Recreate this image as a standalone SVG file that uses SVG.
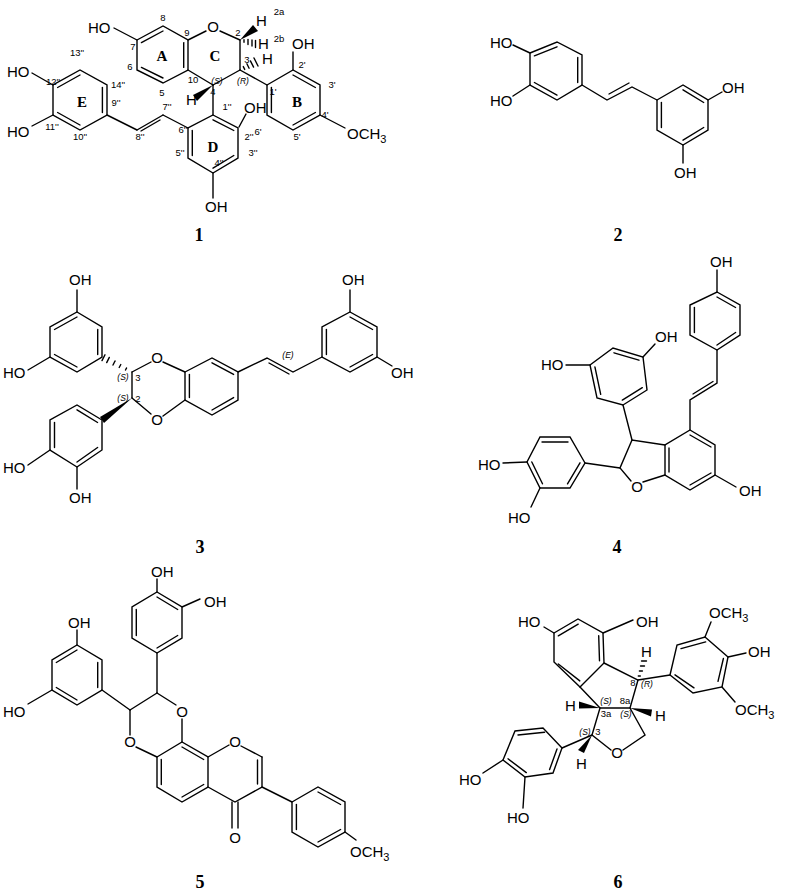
<svg xmlns="http://www.w3.org/2000/svg" width="785" height="893" viewBox="0 0 785 893">
<style>
line,polyline,polygon.r{stroke:#000;stroke-width:1.4;fill:none;stroke-linecap:round}
polygon.w{fill:#000;stroke:none}
text{font-family:"Liberation Sans",Arial,sans-serif;fill:#000}
.a{font-size:15px}
.s{font-size:9.5px;text-anchor:middle}
.i{font-size:8.5px;font-style:italic;text-anchor:middle}
.m{text-anchor:middle}
.L{font-family:"Liberation Serif","Times New Roman",serif;font-weight:bold;font-size:15px;text-anchor:middle}
.n{font-family:"Liberation Serif","Times New Roman",serif;font-weight:bold;font-size:18px;text-anchor:middle}
</style>
<rect width="785" height="893" fill="#fff"/>

<g id="c1">
<polygon class="r" points="137,40 163,26 188,40 188,70 163,83 137,70"/>
<line x1="141.4" y1="42.6" x2="163" y2="31"/><line x1="183.7" y1="42.6" x2="183.7" y2="67.4"/><line x1="163" y1="78" x2="141.4" y2="67.4"/>
<line x1="188" y1="40" x2="206" y2="31"/><line x1="220" y1="31" x2="240" y2="40"/><line x1="240" y1="40" x2="240" y2="70"/><line x1="240" y1="70" x2="213" y2="85"/><line x1="213" y1="85" x2="188" y2="70"/>
<line x1="213" y1="85" x2="213" y2="115"/><line x1="240" y1="70" x2="267" y2="85"/>
<polygon class="r" points="267,85 293,70 320,85 320,115 293,130 267,115"/>
<line x1="293" y1="75" x2="315.4" y2="87.5"/><line x1="315.4" y1="112.5" x2="293" y2="125"/><line x1="271.4" y1="87.5" x2="271.4" y2="112.5"/>
<polygon class="r" points="213,115 238,128 238,158 213,173 188,158 188,128"/>
<line x1="213" y1="119.8" x2="233.8" y2="130.5"/><line x1="233.8" y1="155.5" x2="213" y2="168.2"/><line x1="192.3" y1="155.5" x2="192.3" y2="130.5"/>
<line x1="188" y1="128" x2="163" y2="115"/><line x1="163" y1="115" x2="137" y2="130"/><line x1="160" y1="120" x2="141" y2="131"/><line x1="137" y1="130" x2="107" y2="115"/>
<polygon class="r" points="107,115 107,85 80,70 53,85 53,115 80,130"/>
<line x1="102.4" y1="112.5" x2="102.4" y2="87.5"/><line x1="80" y1="75" x2="57.6" y2="87.5"/><line x1="57.6" y1="112.5" x2="80" y2="125"/>
<line x1="32" y1="73" x2="53" y2="85"/><line x1="32" y1="126" x2="53" y2="115"/><line x1="114" y1="28" x2="137" y2="40"/>
<line x1="293" y1="52" x2="293" y2="70"/><line x1="239" y1="127" x2="246" y2="114"/><line x1="213" y1="173" x2="213" y2="198"/><line x1="320" y1="115" x2="345" y2="128"/>
<polygon class="w" points="240,40 253,25 258,31"/>
<line x1="244" y1="39.7" x2="244" y2="42.3"/><line x1="248" y1="39.4" x2="248" y2="44.6"/><line x1="252" y1="40" x2="252" y2="46"/><line x1="255.5" y1="40.5" x2="255.5" y2="47.5"/>
<line x1="243.3" y1="66.6" x2="244.7" y2="69.4"/><line x1="246.9" y1="63.8" x2="249.1" y2="68.2"/><line x1="250.4" y1="60.9" x2="253.6" y2="67.1"/><line x1="254" y1="58" x2="258" y2="66"/>
<polygon class="w" points="213,85 193,95 197,101"/>
<text class="a" x="7" y="77">HO</text><text class="a" x="7" y="137">HO</text><text class="a" x="88" y="33">HO</text>
<text class="a m" x="213" y="32">O</text><text class="a" x="292" y="49">OH</text><text class="a" x="244" y="113">OH</text><text class="a" x="205" y="212">OH</text>
<text class="a" x="347" y="139">OCH<tspan font-size="11" dy="4">3</tspan></text>
<text class="a" x="256" y="26">H</text><text class="s" x="279" y="15">2a</text>
<text class="a" x="258" y="49">H</text><text class="s" x="279" y="42">2b</text>
<text class="a" x="262" y="64">H</text><text class="a" x="186" y="105">H</text>
<text class="s" x="163" y="21">8</text><text class="s" x="187" y="36">9</text><text class="s" x="133" y="50">7</text><text class="s" x="130" y="70">6</text><text class="s" x="162" y="96">5</text><text class="s" x="193" y="83">10</text>
<text class="s" x="238" y="36">2</text><text class="s" x="247" y="63">3</text><text class="i" x="217" y="84">(S)</text><text class="s" x="213" y="95">4</text><text class="i" x="243" y="84">(R)</text>
<text class="s" x="302" y="68">2'</text><text class="s" x="332" y="88">3'</text><text class="s" x="273" y="95">1'</text><text class="s" x="325" y="118">4'</text><text class="s" x="258" y="135">6'</text><text class="s" x="297" y="140">5'</text>
<text class="s" x="227" y="110">1''</text><text class="s" x="249" y="140">2''</text><text class="s" x="253" y="156">3''</text><text class="s" x="219" y="166">4''</text><text class="s" x="180" y="156">5''</text><text class="s" x="183" y="133">6''</text>
<text class="s" x="167" y="110">7''</text><text class="s" x="140" y="140">8''</text><text class="s" x="116" y="106">9''</text><text class="s" x="80" y="140">10''</text><text class="s" x="52" y="130">11''</text><text class="s" x="53" y="85">12''</text><text class="s" x="77" y="56">13''</text><text class="s" x="118" y="88">14''</text>
<text class="L" x="162" y="61">A</text><text class="L" x="215" y="61">C</text><text class="L" x="297" y="107">B</text><text class="L" x="213" y="152">D</text><text class="L" x="82" y="107">E</text>
<text class="n" x="199" y="241">1</text>
</g>

<g id="c2">
<polygon class="r" points="530,53 557,42 582,55 582,85 557,100 530,85"/>
<line x1="534.4" y1="55.9" x2="557" y2="46.8"/><line x1="577.7" y1="57.5" x2="577.7" y2="82.5"/><line x1="534.4" y1="82.5" x2="557" y2="95.1"/>
<line x1="513" y1="45" x2="530" y2="53"/><line x1="513" y1="96" x2="530" y2="85"/>
<polyline points="582,85 607,100 632,87 657,100"/><line x1="609" y1="94" x2="629" y2="83"/>
<polygon class="r" points="657,100 683,85 708,100 708,130 683,145 657,130"/>
<line x1="661.4" y1="102.5" x2="661.4" y2="127.5"/><line x1="683" y1="89.8" x2="703.7" y2="102.5"/><line x1="703.7" y1="127.5" x2="683" y2="140.2"/>
<line x1="708" y1="100" x2="722" y2="92"/><line x1="683" y1="145" x2="683" y2="163"/>
<text class="a" x="490" y="48">HO</text><text class="a" x="490" y="106">HO</text><text class="a" x="722" y="93">OH</text><text class="a" x="674" y="178">OH</text>
<text class="n" x="618" y="241">2</text>
</g>

<g id="c3">
<polygon class="r" points="77,312 102,327 102,357 77,372 50,357 50,327"/>
<line x1="97.7" y1="329.5" x2="97.7" y2="354.5"/><line x1="54.5" y1="329.5" x2="77" y2="317"/><line x1="54.5" y1="354.5" x2="77" y2="367"/>
<line x1="77" y1="290" x2="77" y2="312"/><line x1="28" y1="370" x2="50" y2="357"/>
<line x1="126.5" y1="368" x2="125.5" y2="370"/><line x1="120.8" y1="364.5" x2="119.2" y2="367.5"/><line x1="115" y1="361" x2="113" y2="365"/><line x1="109.3" y1="357.4" x2="106.7" y2="362.6"/><line x1="105" y1="354.8" x2="102" y2="360.6"/>
<line x1="132" y1="372" x2="151" y2="362"/><line x1="163" y1="362" x2="185" y2="372"/><line x1="132" y1="372" x2="132" y2="398"/><line x1="132" y1="398" x2="151" y2="414"/><line x1="163" y1="416" x2="185" y2="400"/>
<polygon class="r" points="185,372 212,358 238,372 238,400 212,415 185,400"/>
<line x1="189.4" y1="374.4" x2="189.4" y2="397.6"/><line x1="212" y1="362.8" x2="233.6" y2="374.4"/><line x1="233.6" y1="397.6" x2="212" y2="410"/>
<polyline points="238,372 267,358 293,372 322,357"/><line x1="269" y1="363" x2="289" y2="374"/>
<polygon class="r" points="350,312 377,327 377,357 350,372 322,357 322,327"/>
<line x1="326.4" y1="329.5" x2="326.4" y2="354.5"/><line x1="350" y1="317" x2="372.6" y2="329.5"/><line x1="372.6" y1="354.5" x2="350" y2="367"/>
<line x1="350" y1="290" x2="350" y2="312"/><line x1="377" y1="357" x2="392" y2="366"/>
<polygon class="w" points="132,398 100,417 104,423"/>
<polygon class="r" points="102,420 77,405 50,420 50,450 77,467 102,450"/>
<line x1="54.5" y1="422.5" x2="54.5" y2="447.5"/><line x1="77" y1="409.8" x2="97.6" y2="422.5"/><line x1="97.6" y1="447.5" x2="77" y2="462"/>
<line x1="28" y1="465" x2="50" y2="450"/><line x1="77" y1="467" x2="77" y2="489"/>
<text class="a" x="69" y="285">OH</text><text class="a" x="3" y="378">HO</text><text class="a" x="342" y="285">OH</text><text class="a" x="391" y="378">OH</text>
<text class="a" x="3" y="473">HO</text><text class="a" x="69" y="503">OH</text>
<text class="a m" x="157" y="363">O</text><text class="a m" x="157" y="425">O</text>
<text class="i" x="123" y="380">(S)</text><text class="s" x="138" y="381">3</text><text class="i" x="123" y="401">(S)</text><text class="s" x="138" y="402">2</text><text class="i" x="288" y="358">(E)</text>
<text class="n" x="200" y="553">3</text>
</g>

<g id="c4">
<polygon class="r" points="717,292 740,305 740,335 717,350 690,335 690,305"/>
<line x1="694.4" y1="307.5" x2="694.4" y2="332.5"/><line x1="717" y1="297" x2="735.6" y2="307.5"/><line x1="735.6" y1="332.5" x2="717" y2="345"/>
<line x1="717" y1="270" x2="717" y2="292"/>
<polyline points="717,350 717,383 690,400 690,430"/><line x1="713" y1="381.5" x2="693" y2="394"/>
<polygon class="r" points="690,430 715,445 715,475 690,490 665,475 665,445"/>
<line x1="669" y1="448" x2="669" y2="472"/><line x1="690" y1="435" x2="711" y2="447"/><line x1="711" y1="473" x2="690" y2="485"/>
<line x1="715" y1="475" x2="736" y2="487"/>
<polyline points="665,445 632,440 620,468 631,481"/><line x1="643" y1="482" x2="665" y2="475"/>
<line x1="632" y1="440" x2="623" y2="405"/>
<polygon class="r" points="623,405 647,390 643,357 613,348 590,365 597,398"/>
<line x1="600.7" y1="394.3" x2="594.9" y2="366.9"/><line x1="614" y1="352.8" x2="638.9" y2="360.2"/><line x1="642.3" y1="387.7" x2="622.3" y2="400.1"/>
<line x1="566" y1="365" x2="590" y2="365"/><line x1="643" y1="357" x2="655" y2="344"/>
<line x1="620" y1="468" x2="585" y2="463"/>
<polygon class="r" points="585,463 570,437 540,437 527,462 540,488 570,488"/>
<line x1="568" y1="442" x2="542" y2="442"/><line x1="531.8" y1="462" x2="542.5" y2="483.8"/><line x1="567.5" y1="483.8" x2="580" y2="462.8"/>
<line x1="503" y1="463" x2="527" y2="462"/><line x1="540" y1="488" x2="531" y2="507"/>
<text class="a" x="710" y="267">OH</text><text class="a" x="655" y="342">OH</text><text class="a" x="541" y="370">HO</text><text class="a" x="478" y="470">HO</text><text class="a" x="508" y="523">HO</text><text class="a" x="739" y="496">OH</text>
<text class="a m" x="637" y="492">O</text>
<text class="n" x="617" y="553">4</text>
</g>

<g id="c5">
<polygon class="r" points="157,592 182,607 182,638 157,653 132,638 132,607"/>
<line x1="136.3" y1="609.5" x2="136.3" y2="635.5"/><line x1="157" y1="597" x2="177.7" y2="609.5"/><line x1="177.7" y1="635.5" x2="157" y2="648"/>
<line x1="157" y1="579" x2="157" y2="592"/><line x1="182" y1="607" x2="200" y2="599"/>
<polygon class="r" points="77,645 102,660 102,690 77,705 52,690 52,660"/>
<line x1="97.7" y1="662.5" x2="97.7" y2="687.5"/><line x1="56.3" y1="662.5" x2="77" y2="650"/><line x1="56.3" y1="687.5" x2="77" y2="700"/>
<line x1="77" y1="630" x2="77" y2="645"/><line x1="28" y1="704" x2="52" y2="690"/>
<line x1="157" y1="653" x2="157" y2="693"/><line x1="157" y1="693" x2="176" y2="705"/><line x1="182" y1="719" x2="182" y2="742"/>
<line x1="157" y1="693" x2="130" y2="710"/><line x1="130" y1="710" x2="102" y2="690"/><line x1="130" y1="710" x2="130" y2="735"/><line x1="136" y1="747" x2="157" y2="757"/>
<polygon class="r" points="157,757 182,742 208,757 208,787 182,802 157,787"/>
<line x1="161.3" y1="759.5" x2="161.3" y2="784.5"/><line x1="182" y1="747" x2="203.7" y2="759.5"/><line x1="203.7" y1="784.5" x2="182" y2="797"/>
<line x1="208" y1="757" x2="229" y2="745"/><line x1="241" y1="746" x2="262" y2="757"/>
<polyline points="262,757 262,787 235,802 208,787"/><line x1="257.5" y1="760" x2="257.5" y2="784"/>
<line x1="232" y1="802" x2="232" y2="828"/><line x1="238" y1="802" x2="238" y2="828"/>
<line x1="262" y1="787" x2="292" y2="802"/>
<polygon class="r" points="292,802 318,787 345,802 345,832 318,847 292,832"/>
<line x1="296.4" y1="804.5" x2="296.4" y2="829.5"/><line x1="318" y1="792" x2="340.6" y2="804.5"/><line x1="340.6" y1="829.5" x2="318" y2="842"/>
<line x1="345" y1="832" x2="356" y2="840"/>
<text class="a" x="151" y="577">OH</text><text class="a" x="204" y="607">OH</text><text class="a" x="68" y="628">OH</text><text class="a" x="3" y="717">HO</text>
<text class="a m" x="182" y="717">O</text><text class="a m" x="130" y="747">O</text><text class="a m" x="235" y="747">O</text><text class="a m" x="235" y="843">O</text>
<text class="a" x="350" y="857">OCH<tspan font-size="11" dy="4">3</tspan></text>
<text class="n" x="200" y="888">5</text>
</g>

<g id="c6">
<polygon class="r" points="554,633 578,619 603,633 604,663 580,687 554,662"/>
<line x1="558.3" y1="635.8" x2="578.2" y2="624.2"/><line x1="598.7" y1="635.8" x2="599.5" y2="660.8"/><line x1="579.8" y1="680.9" x2="558.3" y2="664"/>
<line x1="544" y1="627" x2="554" y2="633"/><line x1="603" y1="633" x2="633" y2="620"/>
<polyline points="604,663 638,680 630,708 600,708 580,687"/>
<polyline points="600,708 592,735 611,750"/><polyline points="623,750 645,735 630,708"/>
<line x1="638" y1="680" x2="670" y2="675"/>
<polygon class="r" points="670,675 677,645 705,637 728,657 722,687 693,693"/>
<line x1="681" y1="648.6" x2="705.7" y2="641.9"/><line x1="723.4" y1="658.5" x2="718" y2="681.3"/><line x1="694" y1="687.8" x2="675" y2="674.8"/>
<line x1="705" y1="637" x2="711" y2="622"/><line x1="728" y1="657" x2="746" y2="653"/><line x1="722" y1="687" x2="735" y2="702"/>
<line x1="638.3" y1="676" x2="640.3" y2="676"/><line x1="639.4" y1="671" x2="642.4" y2="671"/><line x1="640.5" y1="666" x2="644.5" y2="666"/><line x1="641.5" y1="661" x2="646.5" y2="661"/>
<polygon class="w" points="600,708 579,701.5 579,708.5"/><polygon class="w" points="630,708 652,709.5 651,716.5"/><polygon class="w" points="592,735 578,750 584,753"/>
<line x1="592" y1="735" x2="562" y2="748"/>
<polygon class="r" points="562,748 543,728 515,731 503,760 525,777 553,773"/>
<line x1="544.6" y1="732.3" x2="518" y2="735"/><line x1="508" y1="758.8" x2="526.3" y2="772.6"/><line x1="549.6" y1="769.6" x2="557" y2="749"/>
<line x1="483" y1="773" x2="503" y2="760"/><line x1="525" y1="777" x2="523" y2="808"/>
<text class="a" x="518" y="627">HO</text><text class="a" x="636" y="627">OH</text>
<text class="a" x="709" y="618">OCH<tspan font-size="11" dy="4">3</tspan></text><text class="a" x="748" y="657">OH</text>
<text class="a" x="735" y="715">OCH<tspan font-size="11" dy="4">3</tspan></text>
<text class="a" x="641" y="657">H</text><text class="a" x="565" y="711">H</text><text class="a" x="655" y="721">H</text><text class="a" x="576" y="769">H</text>
<text class="a m" x="617" y="758">O</text>
<text class="a" x="459" y="785">HO</text><text class="a" x="507" y="823">HO</text>
<text class="i" x="606" y="704">(S)</text><text class="s" x="625" y="704" font-family="Liberation Serif">8a</text><text class="s" x="606" y="717" font-family="Liberation Serif">3a</text><text class="i" x="626" y="717">(S)</text>
<text class="s" x="633" y="686">8</text><text class="i" x="647" y="687">(R)</text><text class="i" x="585" y="735">(S)</text><text class="s" x="598" y="735">3</text>
<text class="n" x="618" y="888">6</text>
</g>
</svg>
